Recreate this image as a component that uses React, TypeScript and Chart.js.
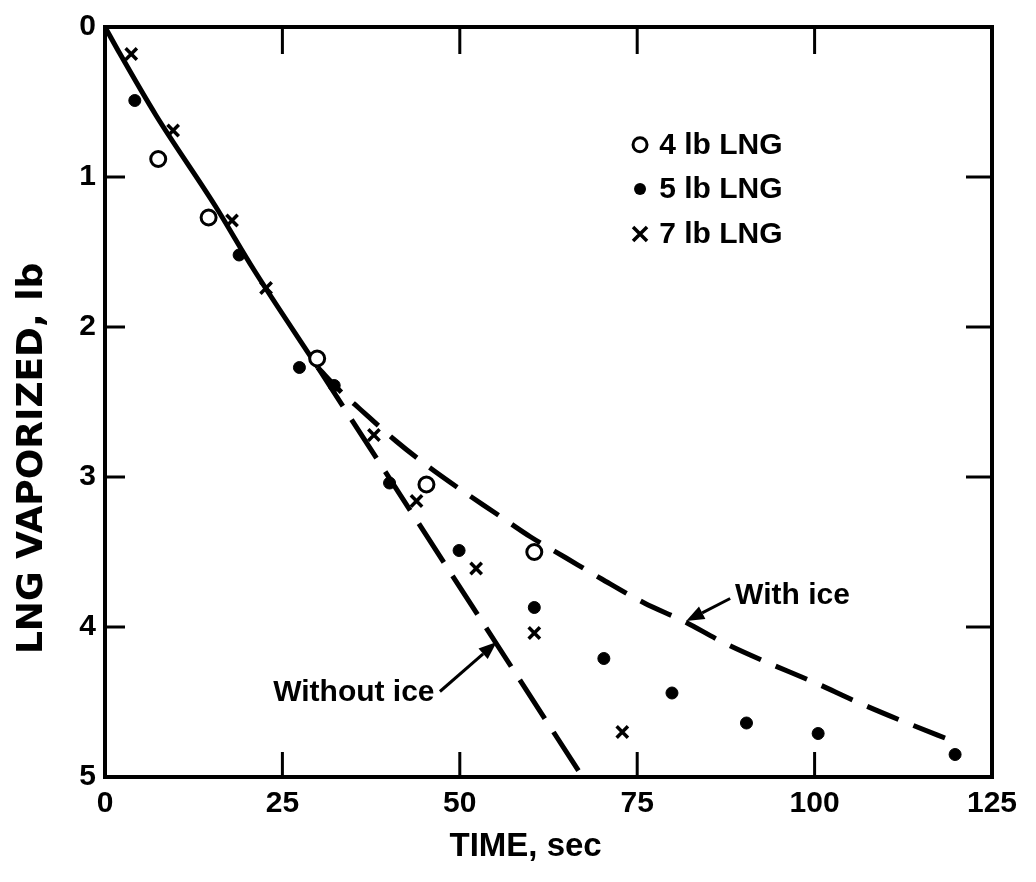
import React, { useEffect, useRef } from 'react';
import { Chart, registerables } from 'chart.js';

Chart.register(...registerables);

const SANS = '"Liberation Sans", Arial, Helvetica, sans-serif';
const WIDE = '"DejaVu Sans", "Liberation Sans", sans-serif';

// ---- measured points (time in sec, LNG vaporized in lb) ----
const lng4Time = [7.5, 14.6, 29.9, 45.3, 60.5];
const lng4Vap = [0.88, 1.27, 2.21, 3.05, 3.5];

const lng5Time = [4.2, 18.9, 27.4, 32.3, 40.1, 49.9, 60.5, 70.3, 79.9, 90.4, 100.5, 119.8];
const lng5Vap = [0.49, 1.52, 2.27, 2.39, 3.04, 3.49, 3.87, 4.21, 4.44, 4.64, 4.71, 4.85];

const lng7Time = [3.7, 9.6, 17.9, 22.7, 37.9, 43.9, 52.3, 60.5, 72.9];
const lng7Vap = [0.18, 0.69, 1.29, 1.74, 2.72, 3.16, 3.61, 4.04, 4.7];

// ---- curves ----
const commonTime = [0, 2, 7.2, 15.5, 21, 30];
const commonVap = [0, 0.17, 0.59, 1.19, 1.62, 2.27];

const noIceTime = [30, 67.3];
const noIceVap = [2.27, 5];

const iceTime = [30, 33, 36, 41, 45, 50, 55, 60, 65, 70, 76, 81.5, 87, 93, 100, 106, 112, 120];
const iceVap = [2.27, 2.42, 2.55, 2.76, 2.91, 3.08, 3.24, 3.4, 3.54, 3.68, 3.84, 3.96, 4.1, 4.23, 4.37, 4.5, 4.62, 4.77];

// ---- axes ----
const xTickValues = [0, 25, 50, 75, 100, 125];
const xTickLabels = ['0', '25', '50', '75', '100', '125'];
const yTickValues = [0, 1, 2, 3, 4, 5];
const yTickLabels = ['0', '1', '2', '3', '4', '5'];
const innerXTicks = [25, 50, 75, 100];
const innerYTicks = [1, 2, 3, 4];
const xTitle = 'TIME, sec';
const yTitle = 'LNG VAPORIZED, lb';

// ---- legend & annotations (in data units) ----
const legendLabels = ['4 lb LNG', '5 lb LNG', '7 lb LNG'];
const legendStyles = ['open', 'dot', 'cross'];
const legendRowsLb = [0.785, 1.08, 1.38];
const legendMarkerSec = 75.4;
const legendTextSec = 78.1;

const withIceLabel = 'With ice';
const withIceLabelAt = [88.8, 3.79];
const withIceArrow = [88.1, 3.81, 81.9, 3.96];
const withoutIceLabel = 'Without ice';
const withoutIceLabelAt = [23.7, 4.44];
const withoutIceArrow = [47.2, 4.43, 55.2, 4.1];

const pts = (xs: number[], ys: number[]) => xs.map((x, i) => ({ x, y: ys[i] }));

function drawMarker(ctx: CanvasRenderingContext2D, style: string, x: number, y: number) {
  ctx.save();
  ctx.strokeStyle = '#000';
  ctx.fillStyle = '#000';
  if (style === 'open') {
    ctx.lineWidth = 3;
    ctx.beginPath();
    ctx.arc(x, y, 7, 0, Math.PI * 2);
    ctx.stroke();
  } else if (style === 'dot') {
    ctx.beginPath();
    ctx.arc(x, y, 6, 0, Math.PI * 2);
    ctx.fill();
  } else {
    ctx.lineWidth = 3.5;
    const r = 7;
    ctx.beginPath();
    ctx.moveTo(x - r, y - r);
    ctx.lineTo(x + r, y + r);
    ctx.moveTo(x + r, y - r);
    ctx.lineTo(x - r, y + r);
    ctx.stroke();
  }
  ctx.restore();
}

const overlay = {
  id: 'overlay',
  afterDatasetsDraw(chart: any) {
    const { ctx, chartArea: a, scales } = chart;
    const X = (v: number) => scales.x.getPixelForValue(v);
    const Y = (v: number) => scales.y.getPixelForValue(v);
    const seg = (x0: number, y0: number, x1: number, y1: number) => {
      ctx.beginPath();
      ctx.moveTo(x0, y0);
      ctx.lineTo(x1, y1);
      ctx.stroke();
    };
    ctx.save();
    ctx.strokeStyle = '#000';
    ctx.fillStyle = '#000';
    ctx.lineCap = 'butt';
    ctx.setLineDash([]);
    ctx.lineWidth = 4;
    ctx.strokeRect(a.left, a.top, a.right - a.left, a.bottom - a.top);
    ctx.lineWidth = 3;
    innerXTicks.forEach((v) => {
      const p = X(v);
      seg(p, a.bottom, p, a.bottom - 25);
      seg(p, a.top, p, a.top + 27);
    });
    innerYTicks.forEach((v) => {
      const p = Y(v);
      seg(a.left, p, a.left + 20, p);
      seg(a.right, p, a.right - 26, p);
    });

    // legend
    ctx.font = `bold 30px ${SANS}`;
    ctx.textBaseline = 'middle';
    ctx.textAlign = 'left';
    legendLabels.forEach((t, i) => {
      const my = Y(legendRowsLb[i]);
      drawMarker(ctx, legendStyles[i], X(legendMarkerSec), my);
      ctx.fillStyle = '#000';
      ctx.fillText(t, X(legendTextSec), my + 1);
    });

    // annotations
    const arrow = (x0: number, y0: number, x1: number, y1: number) => {
      const ang = Math.atan2(y1 - y0, x1 - x0);
      const hl = 18;
      const hw = 7;
      const bx = x1 - hl * Math.cos(ang);
      const by = y1 - hl * Math.sin(ang);
      ctx.lineWidth = 3;
      seg(x0, y0, bx, by);
      ctx.beginPath();
      ctx.moveTo(x1, y1);
      ctx.lineTo(bx + hw * Math.sin(ang), by - hw * Math.cos(ang));
      ctx.lineTo(bx - hw * Math.sin(ang), by + hw * Math.cos(ang));
      ctx.closePath();
      ctx.fill();
    };
    ctx.fillText(withIceLabel, X(withIceLabelAt[0]), Y(withIceLabelAt[1]));
    arrow(X(withIceArrow[0]), Y(withIceArrow[1]), X(withIceArrow[2]), Y(withIceArrow[3]));
    ctx.fillText(withoutIceLabel, X(withoutIceLabelAt[0]), Y(withoutIceLabelAt[1]));
    arrow(X(withoutIceArrow[0]), Y(withoutIceArrow[1]), X(withoutIceArrow[2]), Y(withoutIceArrow[3]));
    ctx.restore();
  },
};

export default function App() {
  const ref = useRef<HTMLCanvasElement>(null);

  useEffect(() => {
    if (!ref.current) return;
    const tickFont = { family: SANS, size: 30, weight: 'bold' as const, lineHeight: 1.2 };
    const chart = new Chart(ref.current, {
      type: 'scatter',
      data: {
        datasets: [
          {
            label: '4 lb LNG',
            data: pts(lng4Time, lng4Vap),
            showLine: false,
            pointStyle: 'circle',
            pointRadius: 7.5,
            pointBorderWidth: 3,
            pointBackgroundColor: '#fff',
            pointBorderColor: '#000',
          },
          {
            label: '5 lb LNG',
            data: pts(lng5Time, lng5Vap),
            showLine: false,
            pointStyle: 'circle',
            pointRadius: 6,
            pointBorderWidth: 1,
            pointBackgroundColor: '#000',
            pointBorderColor: '#000',
          },
          {
            label: '7 lb LNG',
            data: pts(lng7Time, lng7Vap),
            showLine: false,
            pointStyle: 'crossRot',
            pointRadius: 8,
            pointBorderWidth: 3.5,
            pointBorderColor: '#000',
            pointBackgroundColor: '#000',
          },
          {
            label: 'Common',
            data: pts(commonTime, commonVap),
            showLine: true,
            borderColor: '#000',
            borderWidth: 5,
            pointRadius: 0,
            fill: false,
            cubicInterpolationMode: 'monotone',
          },
          {
            label: 'Without ice',
            data: pts(noIceTime, noIceVap),
            showLine: true,
            borderColor: '#000',
            borderWidth: 5,
            borderDash: [46, 16],
            pointRadius: 0,
            fill: false,
          },
          {
            label: 'With ice',
            data: pts(iceTime, iceVap),
            showLine: true,
            borderColor: '#000',
            borderWidth: 5,
            borderDash: [34, 16],
            pointRadius: 0,
            fill: false,
            cubicInterpolationMode: 'monotone',
          },
        ],
      },
      options: {
        responsive: false,
        animation: false,
        events: [],
        layout: { padding: { left: 0, right: 44, top: 19, bottom: 0 } },
        plugins: {
          legend: { display: false },
          tooltip: { enabled: false },
        },
        scales: {
          x: {
            type: 'linear',
            min: 0,
            max: 125,
            afterBuildTicks: (s: any) => {
              s.ticks = xTickValues.map((v) => ({ value: v }));
            },
            afterFit: (s: any) => {
              s.height = 105;
            },
            ticks: {
              font: tickFont,
              color: '#000',
              padding: 9,
              maxRotation: 0,
              autoSkip: false,
              callback: (v: any) => xTickLabels[xTickValues.indexOf(Number(v))] ?? '',
            },
            grid: { display: false, drawTicks: false, tickLength: 0 },
            border: { display: false },
            title: {
              display: true,
              text: xTitle + '     ',
              color: '#000',
              font: { family: SANS, size: 33, weight: 'bold', lineHeight: 1.2 },
              padding: { top: 0, bottom: 15 },
            },
          },
          y: {
            type: 'linear',
            reverse: true,
            min: 0,
            max: 5,
            afterBuildTicks: (s: any) => {
              s.ticks = yTickValues.map((v) => ({ value: v }));
            },
            afterFit: (s: any) => {
              s.width = 105;
            },
            ticks: {
              font: tickFont,
              color: '#000',
              padding: 9,
              autoSkip: false,
              callback: (v: any) => yTickLabels[yTickValues.indexOf(Number(v))] ?? '',
            },
            grid: { display: false, drawTicks: false, tickLength: 0 },
            border: { display: false },
            title: {
              display: true,
              text: yTitle + '         ',
              color: '#000',
              font: { family: WIDE, size: 36, weight: 'bold', lineHeight: 1.2 },
              padding: { top: 11, bottom: 0 },
            },
          },
        },
      },
      plugins: [overlay],
    } as any);
    return () => chart.destroy();
  }, []);

  return (
    <div style={{ position: 'absolute', left: 0, top: 0, width: 1036, height: 882, background: '#fff' }}>
      <canvas ref={ref} width={1036} height={882} style={{ display: 'block' }} />
    </div>
  );
}
